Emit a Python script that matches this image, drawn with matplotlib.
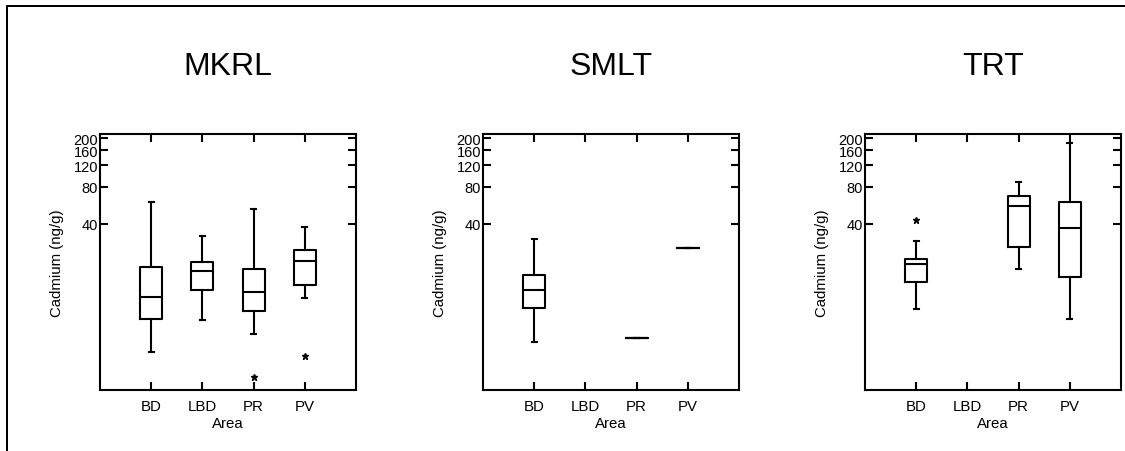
import numpy as np
import matplotlib.pyplot as plt
from matplotlib.lines import Line2D

plt.rcParams['font.family'] = ['Liberation Sans', 'DejaVu Sans']

sites = ['MKRL', 'SMLT', 'TRT']
areas = ['BD', 'LBD', 'PR', 'PV']

# five-number summaries (ng/g): whisker low, q1, median, q3, whisker high
mkrl_stats = {
    'BD':  [3.55, 6.7, 10.0, 17.9, 59.8],
    'LBD': [6.5, 11.4, 16.5, 19.5, 31.9],
    'PR':  [5.0, 7.7, 11.1, 17.1, 52.8],
    'PV':  [9.9, 12.6, 19.9, 24.2, 37.8],
}
mkrl_fliers = {'PR': [2.22], 'PV': [3.29]}

smlt_stats = {
    'BD': [4.3, 8.2, 11.5, 15.4, 30.0],
    'PR': [4.7, 4.7, 4.7, 4.7, 4.7],
    'PV': [25.6, 25.6, 25.6, 25.6, 25.6],
}
smlt_fliers = {}

trt_stats = {
    'BD': [8.1, 13.3, 18.7, 20.7, 28.9],
    'PR': [17.1, 25.8, 55.5, 67.0, 88.2],
    'PV': [6.7, 14.7, 37.1, 60.2, 182.0],
}
trt_fliers = {'BD': [43.1]}

yticks = [40, 80, 120, 160, 200]

W, H = 1125, 452
fig = plt.figure(figsize=(W / 100, H / 100), dpi=100)

# outer frame (top and left only)
lw_px = 2.0
fig.add_artist(Line2D([7 / W, 7 / W], [0, 1 - 7 / H], transform=fig.transFigure,
                      color='black', lw=lw_px * 0.72))
fig.add_artist(Line2D([7 / W, 1], [1 - 7 / H, 1 - 7 / H], transform=fig.transFigure,
                      color='black', lw=lw_px * 0.72))

lefts = [100, 483, 865]
ax_w, ax_top, ax_bot = 256, 135, 390.7

line_kw = dict(color='black', linewidth=1.5)
all_stats = [mkrl_stats, smlt_stats, trt_stats]
all_fliers = [mkrl_fliers, smlt_fliers, trt_fliers]

for site, left, stats, fliers in zip(sites, lefts, all_stats, all_fliers):
    ax = fig.add_axes([left / W, 1 - ax_bot / H, ax_w / W, (ax_bot - ax_top) / H])
    bxp_stats, positions = [], []
    for i, a in enumerate(areas):
        if a not in stats:
            continue
        lo, q1, med, q3, hi = stats[a]
        bxp_stats.append(dict(whislo=lo, q1=q1, med=med, q3=q3, whishi=hi,
                              fliers=fliers.get(a, []), label=a))
        positions.append(i + 1)
    ax.bxp(bxp_stats, positions=positions, widths=0.43, capwidths=0.09,
           boxprops=line_kw, whiskerprops=line_kw, capprops=line_kw,
           medianprops=line_kw,
           flierprops=dict(marker='*', markersize=5, markerfacecolor='black',
                           markeredgecolor='black', linestyle='none'))

    ax.set_yscale('log')
    ax.set_ylim(1.76, 217)
    ax.set_xlim(0, 5)
    ax.set_yticks(yticks)
    ax.set_yticklabels([str(t) for t in yticks])
    ax.yaxis.set_minor_locator(plt.NullLocator())
    ax.set_xticks(range(1, len(areas) + 1))
    ax.set_xticklabels(areas)

    for s in ax.spines.values():
        s.set_linewidth(1.5)
    ax.tick_params(axis='both', which='both', direction='in', length=6, width=1.5,
                   top=True, right=True)
    ax.tick_params(axis='y', pad=1.5, labelsize=10.5)
    ax.tick_params(axis='x', pad=6.5, labelsize=10.8)

    ax.set_xlabel('Area', fontsize=10.8, labelpad=2)
    ax.set_ylabel('Cadmium (ng/g)', fontsize=10.8, labelpad=7)
    ax.set_title(site, fontsize=23, pad=43)

fig.savefig('out.png', dpi=100)
